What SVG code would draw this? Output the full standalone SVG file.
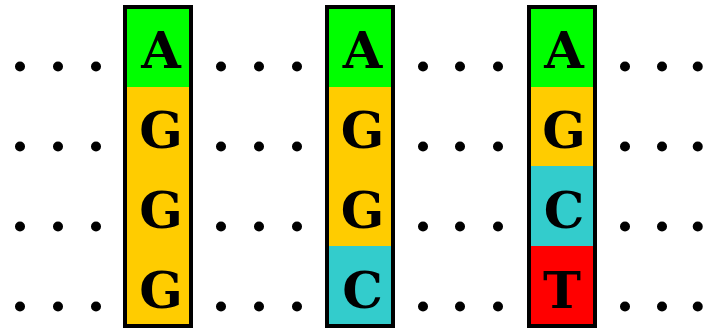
<svg xmlns="http://www.w3.org/2000/svg" width="706" height="328" viewBox="0 0 706 328">
<style>
.d{font-family:"Liberation Serif","Times New Roman",serif;font-weight:bold;font-size:62px;fill:#000}
.t{font-family:"DejaVu Serif","Liberation Serif",serif;font-weight:bold;font-size:51px;fill:#000;text-anchor:middle}
.box{fill:none;stroke:#000;stroke-width:4}
.g{fill:#00ff00}.y{fill:#ffcc00}.c{fill:#33cccc}.r{fill:#ff0000}
</style>
<rect width="706" height="328" fill="#fff"/>
<g id="dots">
<text class="d" x="12.3 50.3 88.3" y="70.5">...</text>
<text class="d" x="12.3 50.3 88.3" y="150.5">...</text>
<text class="d" x="12.3 50.3 88.3" y="230.5">...</text>
<text class="d" x="12.3 50.3 88.3" y="310.5">...</text>
<text class="d" x="213.3 251.3 289.3" y="70.5">...</text>
<text class="d" x="213.3 251.3 289.3" y="150.5">...</text>
<text class="d" x="213.3 251.3 289.3" y="230.5">...</text>
<text class="d" x="213.3 251.3 289.3" y="310.5">...</text>
<text class="d" x="415.3 452.3 490.3" y="70.5">...</text>
<text class="d" x="415.3 452.3 490.3" y="150.5">...</text>
<text class="d" x="415.3 452.3 490.3" y="230.5">...</text>
<text class="d" x="415.3 452.3 490.3" y="310.5">...</text>
<text class="d" x="617.3 654.3 690" y="70.5">...</text>
<text class="d" x="617.3 654.3 690" y="150.5">...</text>
<text class="d" x="617.3 654.3 690" y="230.5">...</text>
<text class="d" x="617.3 654.3 690" y="310.5">...</text>
</g>
<g id="col1">
<rect class="g" x="125" y="7" width="66" height="80"/>
<rect class="y" x="125" y="87" width="66" height="239"/>
<rect class="box" x="125" y="7" width="66" height="319"/>
<text class="t" x="161" y="68">A</text><text class="t" x="161" y="148">G</text><text class="t" x="161" y="228">G</text><text class="t" x="161" y="308">G</text>
</g>
<g id="col2">
<rect class="g" x="327" y="7" width="66" height="80"/>
<rect class="y" x="327" y="87" width="66" height="159"/>
<rect class="c" x="327" y="246" width="66" height="80"/>
<rect class="box" x="327" y="7" width="66" height="319"/>
<text class="t" x="362.5" y="68">A</text><text class="t" x="362.5" y="148">G</text><text class="t" x="362.5" y="228">G</text><text class="t" x="362.5" y="308">C</text>
</g>
<g id="col3">
<rect class="g" x="529" y="7" width="66" height="80"/>
<rect class="y" x="529" y="87" width="66" height="79"/>
<rect class="c" x="529" y="166" width="66" height="80"/>
<rect class="r" x="529" y="246" width="66" height="80"/>
<rect class="box" x="529" y="7" width="66" height="319"/>
<text class="t" x="564" y="68">A</text><text class="t" x="564" y="148">G</text><text class="t" x="564" y="228">C</text><text class="t" x="562" y="308">T</text>
</g>
<g id="connectors"/>
</svg>
